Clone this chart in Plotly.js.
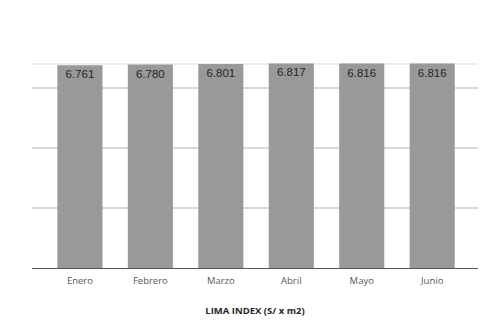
<!DOCTYPE html>
<html>
<head>
<meta charset="utf-8">
<script src="https://cdn.plot.ly/plotly-3.0.1.min.js"></script>
<style>html,body{margin:0;padding:0;background:#fff;}#chart{width:500px;height:333px;}</style>
</head>
<body>
<div id="chart"></div>
<script>
var months = ["Enero", "Febrero", "Marzo", "Abril", "Mayo", "Junio"];
var limaIndex = [6761, 6780, 6801, 6817, 6816, 6816];
var referenceLine = [6800];
var yTicks = [0, 2000, 4000, 6000, 8000];
var xTitle = "LIMA INDEX (S/ x m2)";

var trace = {
  type: "bar",
  x: months,
  y: limaIndex,
  marker: {color: "#999999"},
  texttemplate: "%{y:,}",
  textposition: "inside",
  insidetextanchor: "end",
  textangle: 0,
  textfont: {family: "Liberation Sans, Arial, sans-serif", size: 11.5, color: "#262626"},
  hoverinfo: "none"
};

var layout = {
  width: 500, height: 333,
  margin: {l: 32, r: 22, t: 28, b: 65},
  paper_bgcolor: "#ffffff",
  plot_bgcolor: "#ffffff",
  separators: ",.",
  bargap: 0.36,
  showlegend: false,
  xaxis: {
    range: [-0.68, 5.65],
    showgrid: false,
    showline: true,
    linecolor: "#595959",
    linewidth: 1.2,
    ticks: "",
    ticklabelstandoff: 3,
    tickfont: {family: "Open Sans, Lato, sans-serif", size: 9.5, color: "#595959"},
    title: {text: xTitle, font: {family: "Open Sans, Lato, sans-serif", size: 9.5, color: "#262626", weight: "bold"}, standoff: 21},
    zeroline: false,
    fixedrange: true
  },
  yaxis: {
    range: [0, 8000],
    tickvals: yTicks,
    showticklabels: false,
    showgrid: true,
    gridcolor: "#d9d9d9",
    gridwidth: 1.2,
    zeroline: false,
    ticks: "",
    fixedrange: true
  },
  shapes: referenceLine.map(function (v) {
    return {type: "line", xref: "paper", x0: 0, x1: 1, yref: "y", y0: v, y1: v,
            line: {color: "#d9d9d9", width: 1.2}, layer: "below"};
  })
};

Plotly.newPlot("chart", [trace], layout, {displayModeBar: false, staticPlot: true});
</script>
</body>
</html>
